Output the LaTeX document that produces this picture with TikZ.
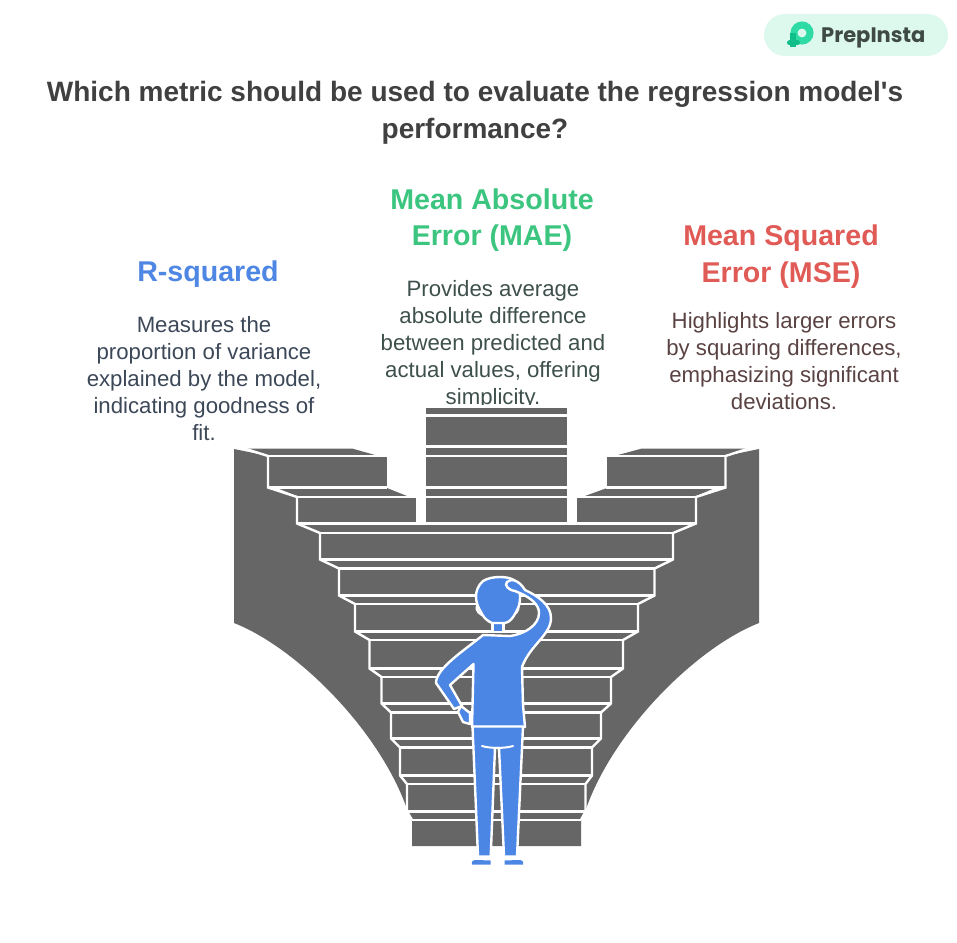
\documentclass[tikz,border=0pt]{standalone}
\usepackage{fontspec}
\setmainfont{Liberation Sans}[Ligatures=TeXOff]
\newfontfamily\popfont{Poppins}
\definecolor{stone}{HTML}{666666}
\definecolor{personblue}{HTML}{4C86E5}
\definecolor{bluehead}{HTML}{4E86E4}
\definecolor{greenhead}{HTML}{3BC57F}
\definecolor{redhead}{HTML}{E05A56}
\definecolor{titlegray}{HTML}{404040}
\definecolor{bodyblue}{HTML}{3C4858}
\definecolor{bodygreen}{HTML}{3E504C}
\definecolor{bodyred}{HTML}{5A4242}
\definecolor{pillbg}{HTML}{DDF8EC}
\definecolor{logolight}{HTML}{2EDBA5}
\definecolor{logodark}{HTML}{10BE8A}
\definecolor{brandtext}{HTML}{3F4A46}
\tikzset{
  titletext/.style={inner sep=0pt,align=center,text=titlegray,font=\fontsize{28}{37}\selectfont\bfseries},
  headtext/.style={inner sep=0pt,align=center,font=\fontsize{28.6}{36.5}\selectfont\bfseries},
  bodytext/.style={inner sep=0pt,align=center,font=\fontsize{22.2}{27}\selectfont},
  stonefill/.style={fill=stone,draw=none},
  stairline/.style={draw=white,line width=2.4pt,line join=miter},
  figure/.style={fill=personblue,draw=white,line width=2.4pt,line join=round},
}
\begin{document}
\begin{tikzpicture}[x=1pt,y=-1pt]
\useasboundingbox (0,0) rectangle (957,942);
% badge
\fill[pillbg,rounded corners=21pt] (764,14) rectangle (948,56);
\draw[logolight,line width=7pt] (802,33) circle (8);
\draw[logodark,line width=6pt] (793,33) -- (793,47);
\draw[logodark,line width=5pt,line cap=round] (789.5,43) -- (797.5,43);
\node[anchor=west,inner sep=0pt,text=brandtext,font=\popfont\fontsize{21}{25}\selectfont\bfseries] (brand) at (821,38) {PrepInsta};
% texts
\node[titletext] (title) at (475,113) {Which metric should be used to evaluate the regression model's\\performance?};
\node[headtext,text=bluehead] (rhead) at (208,274) {R-squared};
\node[bodytext,text=bodyblue] (rbody) at (204,379) {Measures the\\proportion of variance\\explained by the model,\\indicating goodness of\\fit.};
\node[headtext,text=greenhead] (maehead) at (492,220) {Mean Absolute\\Error (MAE)};
\node[bodytext,text=bodygreen] (maebody) at (493,345) {Provides average\\absolute difference\\between predicted and\\actual values, offering\\simplicity.};
\node[headtext,text=redhead] (msehead) at (781,256.5) {Mean Squared\\Error (MSE)};
\node[bodytext,text=bodyred] (msebody) at (784,361.5) {Highlights larger errors\\by squaring differences,\\emphasizing significant\\deviations.};
\fill[white] (426,404.5) rectangle (567,408);
% stairs: walls
\fill[stone] (234,449) -- (268,456) -- (268,488) -- (297,497) -- (297,524) -- (320,533) -- (320,560) -- (339,569) -- (339,596) -- (355,604) -- (355,632) -- (369.5,640) -- (369.5,669) -- (381.5,677) -- (381.5,704) -- (391,713) -- (391,739) -- (400,748) -- (400,776) -- (407,784) -- (407,812) -- (410,818) .. controls (385,735) and (298,648) .. (234,623) -- cycle;
\fill[stone] (759,449) -- (725.5,456) -- (725.5,488) -- (696,497) -- (696,524) -- (673,533) -- (673,560) -- (654.5,569) -- (654.5,596) -- (638,604) -- (638,632) -- (623,640) -- (623,669) -- (611,677) -- (611,704) -- (601,713) -- (601,739) -- (592,748) -- (592,776) -- (585.5,784) -- (585.5,812) -- (583,818) .. controls (608,735) and (695,648) .. (759,623) -- cycle;
% lower block
\fill[stone] (297,524) -- (696,524) -- (673,533) -- (673,560) -- (654.5,569) -- (654.5,596) -- (638,604) -- (638,632) -- (623,640) -- (623,669) -- (611,677) -- (611,704) -- (601,713) -- (601,739) -- (592,748) -- (592,776) -- (585.5,784) -- (585.5,812) -- (581,820) -- (581,846) -- (412,846) -- (412,820) -- (407,812) -- (407,784) -- (400,776) -- (400,748) -- (391,739) -- (391,713) -- (381.5,704) -- (381.5,677) -- (369.5,669) -- (369.5,640) -- (355,632) -- (355,604) -- (339,596) -- (339,569) -- (320,560) -- (320,533) -- cycle;
% upper steps
\fill[stone] (245,448.5) -- (352,448.5) -- (375,455) -- (268,455) -- cycle;
\fill[stone] (268,456) rectangle (386.5,487);
\fill[stone] (277,488) -- (387,488) -- (407,496) -- (297,496) -- cycle;
\fill[stone] (297,497) rectangle (416,524);
\fill[stone] (642,448.5) -- (748,448.5) -- (725.5,455) -- (618,455) -- cycle;
\fill[stone] (606.5,456) rectangle (725.5,487);
\fill[stone] (607,488) -- (715,488) -- (696,496) -- (585,496) -- cycle;
\fill[stone] (577,497) rectangle (696,524);
\fill[stone] (426,408) rectangle (567,524);
% white lines
\draw[stairline] (243,448) -- (268,456) -- (268,487.5) -- (297,497) -- (297,523.5) -- (320,533) -- (320,559.5) -- (339,568.5) -- (339,595.5) -- (355,604) -- (355,631.5) -- (369.5,640) -- (369.5,668.5) -- (381.5,677) -- (381.5,703.5) -- (391,712.5) -- (391,738.5) -- (400,747.5) -- (400,775.5) -- (407,784) -- (407,811.5) -- (412,820);
\draw[stairline] (750,448) -- (725.5,456) -- (725.5,487.5) -- (696,497) -- (696,523.5) -- (673,533) -- (673,559.5) -- (654.5,568.5) -- (654.5,595.5) -- (638,604) -- (638,631.5) -- (623,640) -- (623,668.5) -- (611,677) -- (611,703.5) -- (601,712.5) -- (601,738.5) -- (592,747.5) -- (592,775.5) -- (585.5,784) -- (585.5,811.5) -- (581,820);
\draw[stairline] (268,456) -- (387,456);
\draw[stairline] (268,487.5) -- (387,487.5);
\draw[stairline] (297,497) -- (416,497);
\draw[stairline] (606,456) -- (725.5,456);
\draw[stairline] (606,487.5) -- (725.5,487.5);
\draw[stairline] (577,497) -- (696,497);
\foreach \yy in {415.5,446.5,456,487.5,497} \draw[stairline] (426,\yy) -- (567,\yy);
\draw[stairline] (297,523.5) -- (696,523.5);
\draw[stairline] (320,533) -- (673,533);
\draw[stairline] (320,559.5) -- (673,559.5);
\draw[stairline] (339,568.5) -- (654.5,568.5);
\draw[stairline] (339,595.5) -- (654.5,595.5);
\draw[stairline] (355,604) -- (638,604);
\draw[stairline] (355,631.5) -- (638,631.5);
\draw[stairline] (369.5,640) -- (623,640);
\draw[stairline] (369.5,668.5) -- (623,668.5);
\draw[stairline] (381.5,677) -- (611,677);
\draw[stairline] (381.5,703.5) -- (611,703.5);
\draw[stairline] (391,712.5) -- (601,712.5);
\draw[stairline] (391,738.5) -- (601,738.5);
\draw[stairline] (400,747.5) -- (592,747.5);
\draw[stairline] (400,775.5) -- (592,775.5);
\draw[stairline] (407,784) -- (585.5,784);
\draw[stairline] (407,811.5) -- (585.5,811.5);
\draw[stairline] (412,820) -- (581,820);
% person
\draw[figure] (479,604) .. controls (475,606) and (476,612) .. (482,615) -- (484,606) -- cycle;
\draw[figure] (516,603) .. controls (520,606) and (519,612) .. (513,615) -- (511,606) -- cycle;
\draw[figure] (492.5,618) rectangle (503.5,632);
\draw[figure] (483,581) .. controls (488,578) and (494,577) .. (500,577) .. controls (510,577) and (518,580) .. (519,588) .. controls (521,598) and (520,606) .. (516,612) .. controls (513,618) and (510,622) .. (505,623) -- (492,623) .. controls (487,621) and (483,617) .. (481,612) .. controls (475,603) and (473,590) .. (483,581) -- cycle;
\draw[figure] (483,635) -- (510,636) .. controls (525,634) and (539,625) .. (539,613) .. controls (539,604) and (530,598) .. (522,594) -- (515,591) .. controls (508,590) and (504,585) .. (507,582) .. controls (511,578) and (519,580) .. (525,590) .. controls (538,596) and (551,605) .. (551,618) .. controls (551,635) and (530,645) .. (522,667) -- (523,705) -- (525,727) -- (472,727) -- (473.5,664) -- (450,685) -- (462,706) -- (454,709) -- (436,683) .. controls (436,668) and (465,650) .. cycle;
\draw[figure] (461,706) -- (470,713) -- (470,724) -- (463,722) -- (458,712) -- cycle;
\draw[figure] (472.5,726.5) -- (523,726.5) -- (517,856.5) -- (504,856.5) -- (499,748) -- (495,748) -- (490.7,856.5) -- (478,856.5) -- cycle;
\draw[white,line width=2pt,line cap=round] (482,746) .. controls (490,748.5) and (505,748.5) .. (513,746);
\fill[personblue] (472,864.5) .. controls (471,861) and (473,860) .. (477,860) -- (490.5,860.5) -- (490.5,864.5) -- cycle;
\fill[personblue] (523,864.5) .. controls (524,861) and (522,860) .. (518,860) -- (504.5,860.5) -- (504.5,864.5) -- cycle;
\end{tikzpicture}
\end{document}
